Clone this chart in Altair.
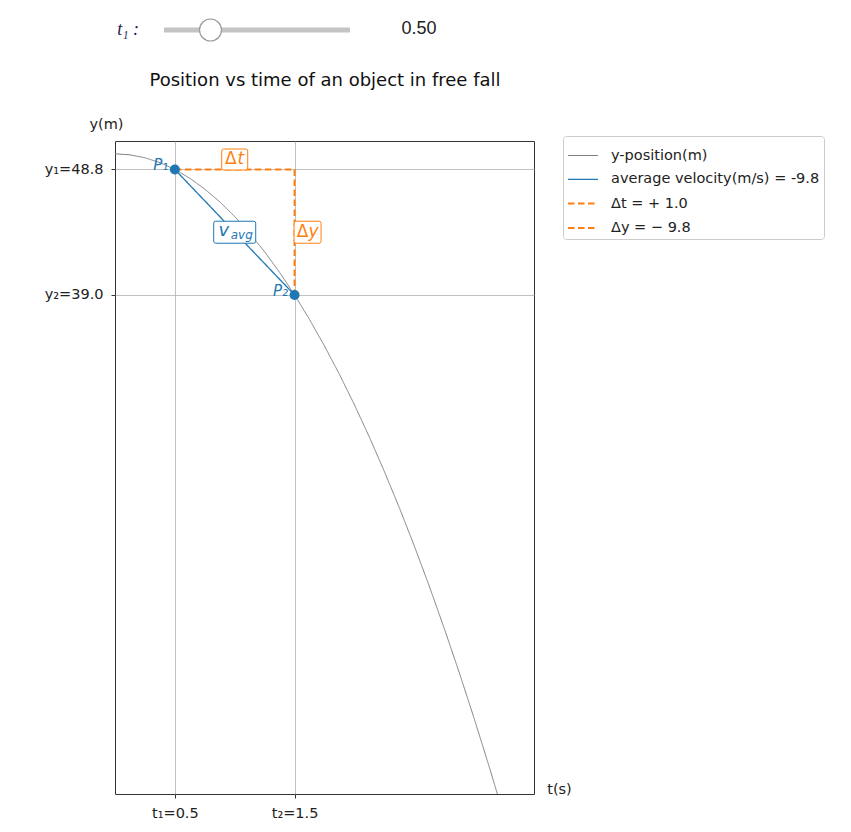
import altair as alt
import pandas as pd

# ---- data ----
curve_t = [0.0, 0.125, 0.25, 0.375, 0.5, 0.625, 0.75, 0.875, 1.0, 1.125, 1.25, 1.375,
           1.5, 1.625, 1.75, 1.875, 2.0, 2.125, 2.25, 2.375, 2.5, 2.625, 2.75, 2.875,
           3.0, 3.125, 3.2]
curve_y = [50.0, 49.92, 49.69, 49.31, 48.78, 48.09, 47.24, 46.25, 45.10, 43.80, 42.34, 40.74,
           38.98, 37.06, 34.99, 32.77, 30.40, 27.87, 25.19, 22.36, 19.38, 16.24, 12.94, 9.50,
           5.90, 2.15, -0.18]
t_pts = [0.5, 1.5]
y_pts = [48.775, 38.975]
t_tick_labels = ["t₁=0.5", "t₂=1.5"]
y_tick_labels = ["y₁=48.8", "y₂=39.0"]
point_labels = ["P₁", "P₂"]
series_names = ["y-position(m)", "average velocity(m/s) = -9.8", "Δt = + 1.0", "Δy = − 9.8"]
series_colors = ["#808080", "#1f77b4", "#ff7f0e", "#ff7f0e"]
series_dash = [[1, 0], [1, 0], [6.5, 3.5], [6.5, 3.5]]
series_width = [1.0, 1.3, 2.0, 2.0]
slider_min, slider_max, slider_value = 0.0, 2.0, 0.5
title_text = "Position vs time of an object in free fall"

BLUE = "#1f77b4"
ORANGE = "#ff7f0e"
FONT = "DejaVu Sans"

# ---- tables ----
rows = []
for i, (t, y) in enumerate(zip(curve_t, curve_y)):
    rows.append({"series": series_names[0], "t": t, "y": y, "i": i})
rows.append({"series": series_names[1], "t": t_pts[0], "y": y_pts[0], "i": 0})
rows.append({"series": series_names[1], "t": t_pts[1], "y": y_pts[1], "i": 1})
rows.append({"series": series_names[2], "t": t_pts[0], "y": y_pts[0], "i": 0})
rows.append({"series": series_names[2], "t": t_pts[1], "y": y_pts[0], "i": 1})
rows.append({"series": series_names[3], "t": t_pts[1], "y": y_pts[0], "i": 0})
rows.append({"series": series_names[3], "t": t_pts[1], "y": y_pts[1], "i": 1})
lines_df = pd.DataFrame(rows)

pts_df = pd.DataFrame({"t": t_pts, "y": y_pts, "label": point_labels})
mid_t = (t_pts[0] + t_pts[1]) / 2
mid_y = (y_pts[0] + y_pts[1]) / 2
dt_df = pd.DataFrame({"t": [mid_t], "y": [y_pts[0]]})
dy_df = pd.DataFrame({"t": [t_pts[1]], "y": [mid_y]})
va_df = pd.DataFrame({"t": [mid_t], "y": [mid_y]})
one = pd.DataFrame({"a": [0]})

x_label_expr = f"datum.value < {mid_t} ? '{t_tick_labels[0]}' : '{t_tick_labels[1]}'"
y_label_expr = f"datum.value > {mid_y} ? '{y_tick_labels[0]}' : '{y_tick_labels[1]}'"

x_enc = alt.X("t:Q", scale=alt.Scale(domain=[0, 3.5], nice=False, zero=False),
              axis=alt.Axis(values=t_pts, labelExpr=x_label_expr, title="t(s)",
                            titleAngle=0, titleX=444, titleY=-5, titleAlign="center",
                            titleBaseline="middle", labelPadding=8))
y_enc = alt.Y("y:Q", scale=alt.Scale(domain=[0, 51], nice=False, zero=False),
              axis=alt.Axis(values=y_pts, labelExpr=y_label_expr, title="y(m)",
                            titleAngle=0, titleX=-9, titleY=-17, titleAlign="center",
                            titleBaseline="middle", labelPadding=8))

legend = alt.Legend(title=None, orient="none", legendX=448, legendY=-5,
                    symbolType="stroke", symbolSize=900, labelFontSize=14.5,
                    labelFont=FONT, labelColor="#222222", padding=4,
                    strokeColor="#cccccc", fillColor="white", cornerRadius=3,
                    labelOffset=12, rowPadding=1.3, labelLimit=400)

lines = alt.Chart(lines_df).mark_line(clip=True).encode(
    x=x_enc, y=y_enc,
    color=alt.Color("series:N", scale=alt.Scale(domain=series_names, range=series_colors), legend=legend),
    strokeDash=alt.StrokeDash("series:N", scale=alt.Scale(domain=series_names, range=series_dash), legend=legend),
    strokeWidth=alt.StrokeWidth("series:N", scale=alt.Scale(type="ordinal", domain=series_names, range=series_width), legend=legend),
    order="i:Q",
)

dots = alt.Chart(pts_df).mark_point(filled=True, size=100, color=BLUE, opacity=1).encode(x="t:Q", y="y:Q")
plabels = alt.Chart(pts_df).mark_text(color=BLUE, fontStyle="italic", fontSize=15, font=FONT,
                                      dx=-14, dy=-4, align="center", baseline="middle").encode(
    x="t:Q", y="y:Q", text="label:N")

def box(w, h):
    hw, hh, r = w / 2, h / 2, 2
    return (f"M{-hw + r},{-hh}H{hw - r}Q{hw},{-hh} {hw},{-hh + r}V{hh - r}Q{hw},{hh} {hw - r},{hh}"
            f"H{-hw + r}Q{-hw},{hh} {-hw},{hh - r}V{-hh + r}Q{-hw},{-hh} {-hw + r},{-hh}Z")

def txt(df, text, color, size, dx, dy, italic=False):
    kw = dict(text=text, color=color, fontSize=size, font=FONT, dx=dx, dy=dy,
              align="center", baseline="middle")
    if italic:
        kw["fontStyle"] = "italic"
    return alt.Chart(df).mark_text(**kw).encode(x="t:Q", y="y:Q")

dt_box = alt.Chart(dt_df).mark_point(shape=box(26, 21), size=4, filled=True, fill="white",
                                     stroke=ORANGE, strokeWidth=1, opacity=1, yOffset=-10).encode(x="t:Q", y="y:Q")
dt_d = txt(dt_df, "Δ", ORANGE, 17, -4, -10)
dt_t = txt(dt_df, "t", ORANGE, 17, 6, -10, italic=True)
dy_box = alt.Chart(dy_df).mark_point(shape=box(27, 22), size=4, filled=True, fill="white",
                                     stroke=ORANGE, strokeWidth=1, opacity=1, xOffset=13).encode(x="t:Q", y="y:Q")
dy_d = txt(dy_df, "Δ", ORANGE, 17, 8, 0)
dy_y = txt(dy_df, "y", ORANGE, 17, 19, 0, italic=True)
va_box = alt.Chart(va_df).mark_point(shape=box(42, 22), size=4, filled=True, fill="white",
                                     stroke=BLUE, strokeWidth=1, opacity=1).encode(x="t:Q", y="y:Q")
va_v = txt(va_df, "v", BLUE, 18, -11, -1, italic=True)
va_avg = txt(va_df, "avg", BLUE, 12, 7, 3, italic=True)

# ---- slider widget & title drawn as marks (plot-relative pixels) ----
track_x0, track_x1, slider_y = 49, 235, -111
knob_x = track_x0 + (slider_value - slider_min) / (slider_max - slider_min) * (track_x1 - track_x0)

track = alt.Chart(one).mark_rule(color="#c4c4c4", strokeWidth=5).encode(
    x=alt.value(track_x0), x2=alt.value(track_x1), y=alt.value(slider_y))
knob = alt.Chart(one).mark_point(shape="circle", size=484, filled=True, fill="white",
                                 stroke="#9a9a9a", strokeWidth=1.2, opacity=1).encode(
    x=alt.value(knob_x), y=alt.value(slider_y))
slabel = alt.Chart(one).mark_text(text="t₁ :", font="Liberation Serif", fontStyle="italic", fontSize=18,
                                  color="#1c1c50", align="center", baseline="middle").encode(
    x=alt.value(13), y=alt.value(slider_y))
svalue = alt.Chart(one).mark_text(text=f"{slider_value:.2f}", font="Liberation Sans", fontSize=18,
                                  color="#222222", align="center", baseline="middle").encode(
    x=alt.value(304), y=alt.value(slider_y - 1))
title = alt.Chart(one).mark_text(text=title_text, font=FONT, fontSize=18, color="#111111",
                                 align="center", baseline="middle").encode(
    x=alt.value(210), y=alt.value(-60))

chart = alt.layer(
    lines, dots, plabels, va_box, va_v, va_avg, dt_box, dt_d, dt_t, dy_box, dy_d, dy_y,
    track, knob, slabel, svalue, title,
).properties(
    width=419, height=653,
    autosize=alt.AutoSizeParams(type="none"),
    padding={"left": 107, "top": 133, "right": 300, "bottom": 30},
).configure_view(
    stroke="#333333", strokeWidth=1,
).configure_axis(
    grid=True, gridColor="#b0b0b0", gridWidth=0.8, domain=False,
    tickColor="#333333", tickSize=4, labelFont=FONT, labelFontSize=14.5, labelColor="#222222",
    titleFont=FONT, titleFontSize=14.5, titleFontWeight="normal", titleColor="#222222",
)

chart.save("out.html", embed_options={"renderer": "svg", "actions": False})
